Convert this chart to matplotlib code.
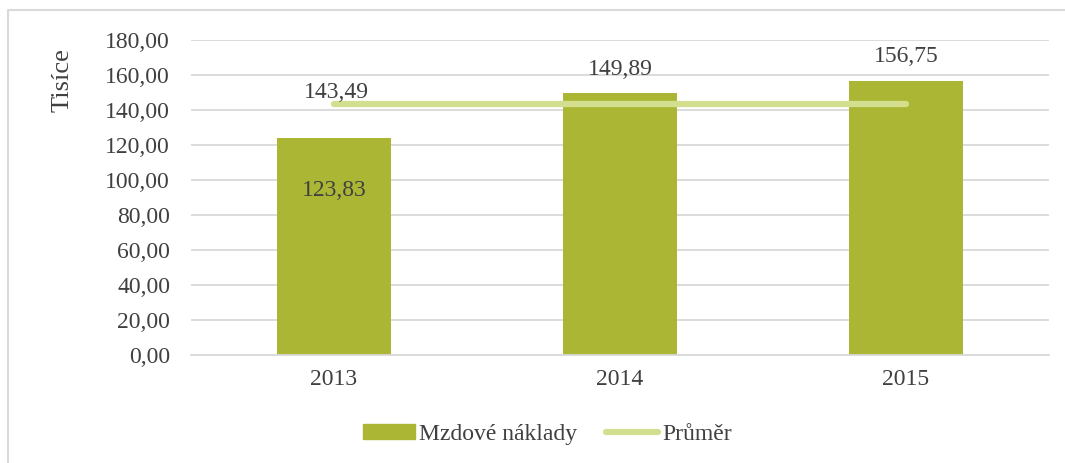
import matplotlib.pyplot as plt
from matplotlib.lines import Line2D
from matplotlib.patches import Patch

years = ["2013", "2014", "2015"]
costs = [123.83, 149.89, 156.75]
average = [143.49, 143.49, 143.49]

bar_color = "#abb734"
line_color = "#d3df8e"
text_color = "#404040"
grid_color = "#d9d9d9"

plt.rcParams['font.family'] = ['Liberation Serif', 'DejaVu Serif']

fig = plt.figure(figsize=(10.65, 4.63), dpi=100)
ax = fig.add_axes([191 / 1065, 1 - 355 / 463, (1049 - 191) / 1065, (355 - 40) / 463])

x = range(len(years))
ax.bar(x, costs, width=0.4, color=bar_color, zorder=2)
ax.plot(x, average, color=line_color, lw=4.5, solid_capstyle='round', zorder=3)

ax.set_xlim(-0.5, 2.5)
ax.set_ylim(0, 180)
ax.set_yticks(range(0, 181, 20))
ax.set_yticklabels([f"{v:.2f}".replace(".", ",") for v in range(0, 181, 20)])
ax.set_xticks(list(x))
ax.set_xticklabels(years)
ax.yaxis.grid(True, color=grid_color, lw=1.3, zorder=0)
for s in ["top", "right", "left"]:
    ax.spines[s].set_visible(False)
ax.spines["bottom"].set_color(grid_color)
ax.spines["bottom"].set_linewidth(1.3)
ax.tick_params(axis='both', length=0, labelsize=17, labelcolor=text_color)
ax.tick_params(axis='x', pad=10)
ax.tick_params(axis='y', pad=15)
ax.set_ylabel("Tisíce", fontsize=19, color=text_color)
ax.yaxis.set_label_coords(-0.137, 0.873)

fmt = lambda v: f"{v:.2f}".replace(".", ",")
ax.text(0, 94, fmt(costs[0]), ha='center', va='center',
        fontsize=17, color=text_color, zorder=4)
ax.text(1, 163, fmt(costs[1]), ha='center', va='center',
        fontsize=17, color=text_color, zorder=4)
ax.text(2, 170.5, fmt(costs[2]), ha='center', va='center',
        fontsize=17, color=text_color, zorder=4)
ax.text(0.01, 150, fmt(average[0]), ha='center', va='center',
        fontsize=17, color=text_color, zorder=4)

handles = [Patch(color=bar_color, label="Mzdové náklady"),
           Line2D([], [], color=line_color, lw=4.5, solid_capstyle='round', label="Průměr")]
fig.legend(handles=handles, loc='center', bbox_to_anchor=(0.514, 0.062), ncol=2,
           frameon=False, fontsize=17, labelcolor=text_color,
           handlelength=2.2, handleheight=0.6, columnspacing=1.2, handletextpad=0.2)

fig.add_artist(Line2D([8 / 1065, 8 / 1065, 1.0], [0, 1 - 10 / 463, 1 - 10 / 463],
                      transform=fig.transFigure, color="#d9d9d9", lw=1.5))

fig.savefig("out.png", dpi=100)
